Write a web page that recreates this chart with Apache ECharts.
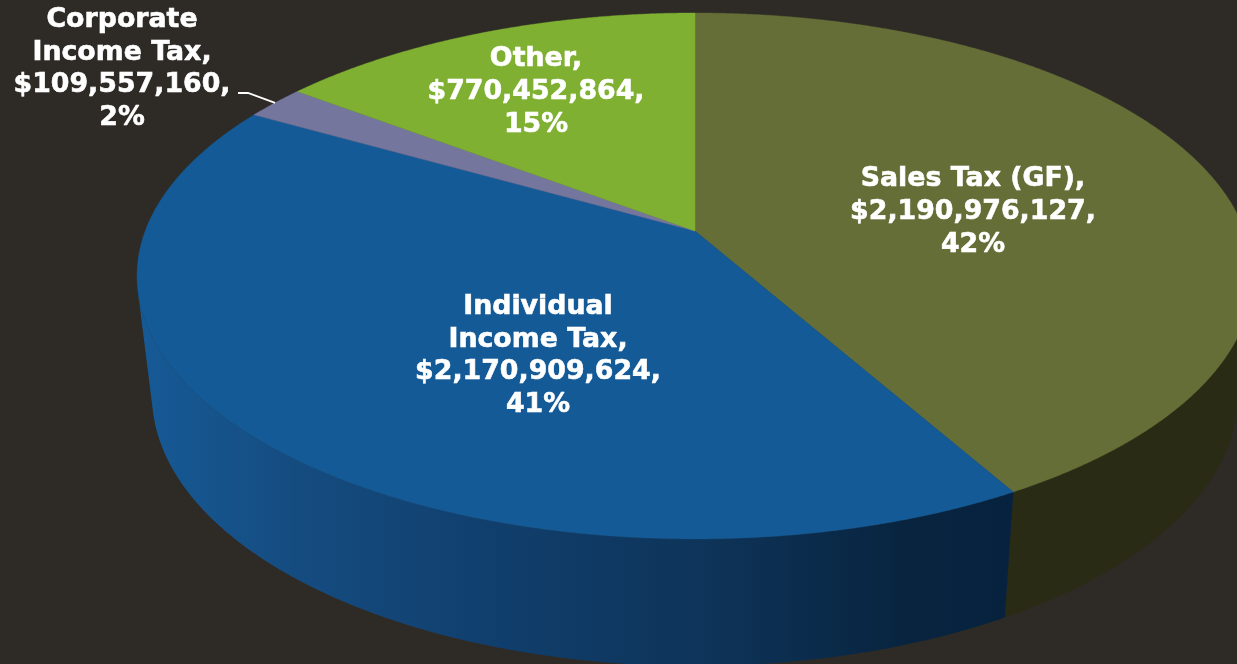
<!DOCTYPE html>
<html>
<head>
<meta charset="utf-8">
<style>html,body{margin:0;padding:0;background:#2e2b26}#chart{width:1237px;height:664px}</style>
<script src="https://cdn.jsdelivr.net/npm/echarts@6/dist/echarts.min.js"></script>
</head>
<body>
<div id="chart"></div>
<script>
// Data, clockwise from twelve o'clock
var categories = ['Sales Tax (GF)', 'Individual Income Tax', 'Corporate Income Tax', 'Other'];
var labelLines = [
  ['Sales Tax (GF),'],
  ['Individual', 'Income Tax,'],
  ['Corporate', 'Income Tax,'],
  ['Other,']
];
var values = [2190976127, 2170909624, 109557160, 770452864];

// Styles
var topColors = ['#666e37', '#145a96', '#74769e', '#7fb032'];
var wallColors = ['#2a2b14', null, '#3a3b4f', '#405819'];
var labelCenters = [[973, 212], [538, 356], [122, 69], [536, 92]];
var background = '#2e2b26';

// Perspective of the pie's top plane
var CX = 695, CY = 231, A = 549.8, B = 255.3, K = 0.171;
// Outline ellipses of the top and the bottom plane
var TOP_CY = 276, TOP_RX = 558, TOP_RY = 263;
var BOTTOM_CY = 395, BOTTOM_RX = 543, BOTTOM_RY = 271;

var total = values.reduce(function (s, v) { return s + v; }, 0);
var starts = [];
values.reduce(function (s, v, i) { starts[i] = s; return s + v; }, 0);

function project(angle) {
  var u = Math.sin(angle), v = -Math.cos(angle), w = 1 - K * v;
  return [CX + A * u / w, CY + B * v / w];
}
function lower(p) {
  return [
    CX + (p[0] - CX) / TOP_RX * BOTTOM_RX,
    BOTTOM_CY + (p[1] - TOP_CY) / TOP_RY * BOTTOM_RY
  ];
}
function rim(i) {
  var a0 = starts[i] / total * 2 * Math.PI;
  var a1 = (starts[i] + values[i]) / total * 2 * Math.PI;
  var n = Math.max(4, Math.ceil((a1 - a0) / 0.004)), pts = [];
  for (var k = 0; k <= n; k++) pts.push(project(a0 + (a1 - a0) * k / n));
  return pts;
}
// Signed area of the wall quad between two neighbouring rim points; negative faces the viewer
function facesViewer(p0, p1) {
  var q = [p0, p1, lower(p1), lower(p0)], s = 0;
  for (var j = 0; j < 4; j++) {
    var a = q[j], b = q[(j + 1) % 4];
    s += a[0] * b[1] - b[0] * a[1];
  }
  return s < 0;
}
function visibleRim(i) {
  var pts = rim(i), out = [];
  for (var k = 0; k < pts.length - 1; k++) {
    if (facesViewer(pts[k], pts[k + 1])) {
      if (!out.length) out.push(pts[k]);
      out.push(pts[k + 1]);
    }
  }
  return out;
}
function money(v) {
  return '$' + String(v).replace(/\B(?=(\d{3})+$)/g, ',') + ',';
}
function labelText(i) {
  return labelLines[i].concat([money(values[i]), Math.round(values[i] / total * 100) + '%']).join('\n');
}

var blueWall = new echarts.graphic.LinearGradient(137, 0, 1012, 0, [
  { offset: 0, color: '#165a96' },
  { offset: 0.18, color: '#154c80' },
  { offset: 0.42, color: '#103e6c' },
  { offset: 0.65, color: '#0e3459' },
  { offset: 0.88, color: '#08243f' },
  { offset: 1, color: '#06223e' }
], true);

var source = values.map(function (v, i) { return [i, v]; });

var option = {
  backgroundColor: background,
  animation: false,
  series: [
    {
      type: 'custom', coordinateSystem: 'none', silent: true, z: 1, data: source,
      renderItem: function (params, api) {
        var i = api.value(0), top = visibleRim(i);
        if (top.length < 2) return null;
        var bottom = top.map(lower).reverse();
        return {
          type: 'polygon',
          shape: { points: top.concat(bottom) },
          style: { fill: wallColors[i] || blueWall, stroke: null }
        };
      }
    },
    {
      type: 'custom', coordinateSystem: 'none', silent: true, z: 2, data: source,
      renderItem: function (params, api) {
        var i = api.value(0);
        return {
          type: 'polygon',
          shape: { points: [[CX, CY]].concat(rim(i)) },
          style: { fill: topColors[i], stroke: topColors[i], lineWidth: 0.4 }
        };
      }
    },
    {
      type: 'custom', coordinateSystem: 'none', silent: true, z: 3, data: source,
      renderItem: function (params, api) {
        var i = api.value(0), children = [{
          type: 'text',
          style: {
            x: labelCenters[i][0], y: labelCenters[i][1],
            text: labelText(i),
            fill: '#ffffff',
            stroke: '#ffffff',
            lineWidth: 0.6,
            font: 'bold 26.8px "DejaVu Sans", Verdana, sans-serif',
            lineHeight: 32.7,
            align: 'center', verticalAlign: 'middle'
          }
        }];
        if (categories[i] === 'Corporate Income Tax') {
          var mid = (starts[i] + values[i] / 2) / total * 2 * Math.PI, end = project(mid);
          children.push({
            type: 'polyline',
            shape: { points: [[238, 93], [248, 93], end] },
            style: { fill: null, stroke: '#ffffff', lineWidth: 1.8 }
          });
        }
        return { type: 'group', children: children };
      }
    }
  ]
};
var chart = echarts.init(document.getElementById('chart'), null, { renderer: 'canvas' });
chart.setOption(option);
</script>
</body>
</html>
